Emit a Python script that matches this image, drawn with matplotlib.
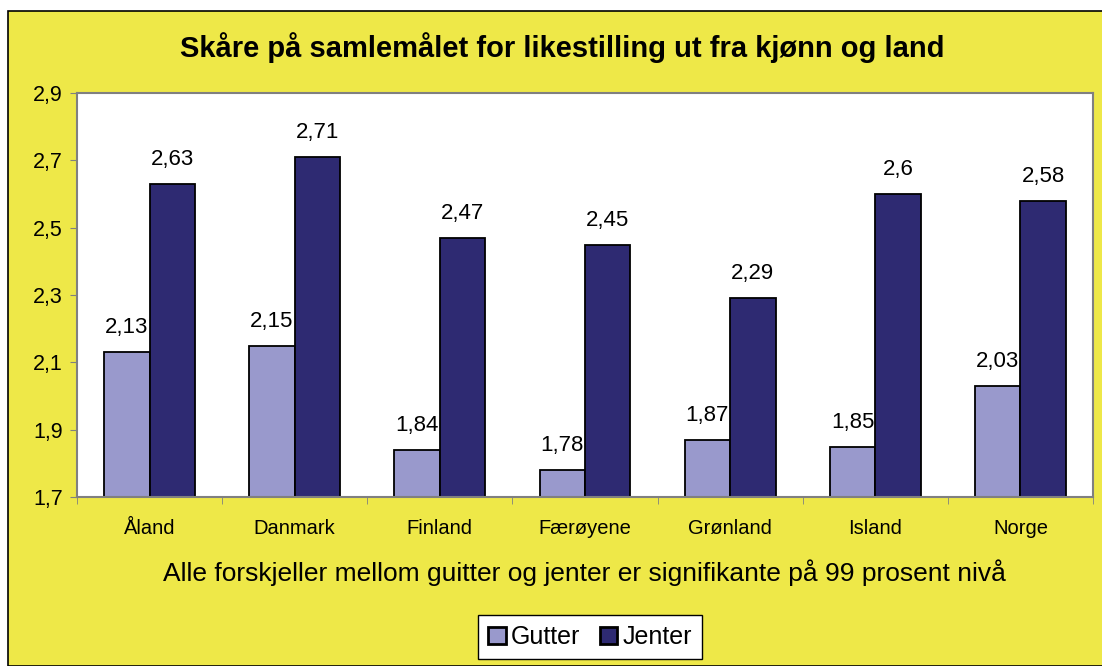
import numpy as np
import matplotlib
matplotlib.use("Agg")
import matplotlib.pyplot as plt
from matplotlib.patches import Rectangle

plt.rcParams['font.family'] = ['Liberation Sans', 'DejaVu Sans']

# data
land = ['Åland', 'Danmark', 'Finland', 'Færøyene', 'Grønland', 'Island', 'Norge']
gutter = [2.13, 2.15, 1.84, 1.78, 1.87, 1.85, 2.03]
jenter = [2.63, 2.71, 2.47, 2.45, 2.29, 2.60, 2.58]
yticks = [1.7, 1.9, 2.1, 2.3, 2.5, 2.7, 2.9]

gul = '#EEE848'
c_gutter = '#9999CC'
c_jenter = '#2E2A72'

W, H = 1102, 666
fig = plt.figure(figsize=(W / 100, H / 100), dpi=100)
fig.patch.set_facecolor('white')

# gul bakgrunn med svart kant
bg = Rectangle((8 / W, 0), 1.2, 1 - 11 / H, transform=fig.transFigure,
               facecolor=gul, edgecolor='black', linewidth=1.2, zorder=-10)
fig.patches.append(bg)

ax = fig.add_axes([77 / W, 1 - 497 / H, (1093 - 77) / W, (497 - 93) / H])
ax.set_facecolor('white')

x = np.arange(len(land))
bw = 0.313
ax.bar(x - bw / 2, gutter, bw, color=c_gutter, edgecolor='black', linewidth=1.3, label='Gutter')
ax.bar(x + bw / 2, jenter, bw, color=c_jenter, edgecolor='black', linewidth=1.3, label='Jenter')

def fmt(v):
    s = ('%.2f' % v).rstrip('0').rstrip('.')
    return s.replace('.', ',')

for xi, v in zip(x - bw / 2, gutter):
    ax.annotate(fmt(v), (xi, v), xytext=(0, 10), textcoords='offset points',
                ha='center', va='bottom', fontsize=16)
for xi, v in zip(x + bw / 2, jenter):
    ax.annotate(fmt(v), (xi, v), xytext=(0, 10), textcoords='offset points',
                ha='center', va='bottom', fontsize=16)

ax.set_ylim(1.7, 2.9)
ax.set_xlim(-0.5, len(land) - 0.5)
ax.set_yticks(yticks)
ax.set_yticklabels([fmt(t) for t in yticks], fontsize=15.5)
ax.set_xticks(x)
ax.set_xticklabels(land, fontsize=14.5)
ax.tick_params(axis='x', length=0, pad=16)
ax.set_xticks(np.arange(len(land) + 1) - 0.5, minor=True)
ax.tick_params(axis='x', which='minor', length=5, color='#808080')
ax.tick_params(axis='y', length=5, color='#808080', pad=5)
for s in ax.spines.values():
    s.set_color('#808080')
    s.set_linewidth(1.5)

fig.text(562 / W, 1 - 48 / H, 'Skåre på samlemålet for likestilling ut fra kjønn og land',
         ha='center', va='center', fontsize=21, fontweight='bold')
fig.text(584 / W, 1 - 573 / H, 'Alle forskjeller mellom guitter og jenter er signifikante på 99 prosent nivå',
         ha='center', va='center', fontsize=19)

leg = fig.legend(loc='center', bbox_to_anchor=(590 / W, 1 - 637 / H), ncol=2, fontsize=18,
                 frameon=True, fancybox=False, edgecolor='black', framealpha=1,
                 handlelength=0.7, handleheight=0.7, handletextpad=0.2,
                 columnspacing=0.8, borderpad=0.4)
leg.get_frame().set_linewidth(1.0)
for h in leg.legend_handles:
    h.set_linewidth(2)

fig.savefig('out.png', dpi=100, facecolor=fig.get_facecolor())
